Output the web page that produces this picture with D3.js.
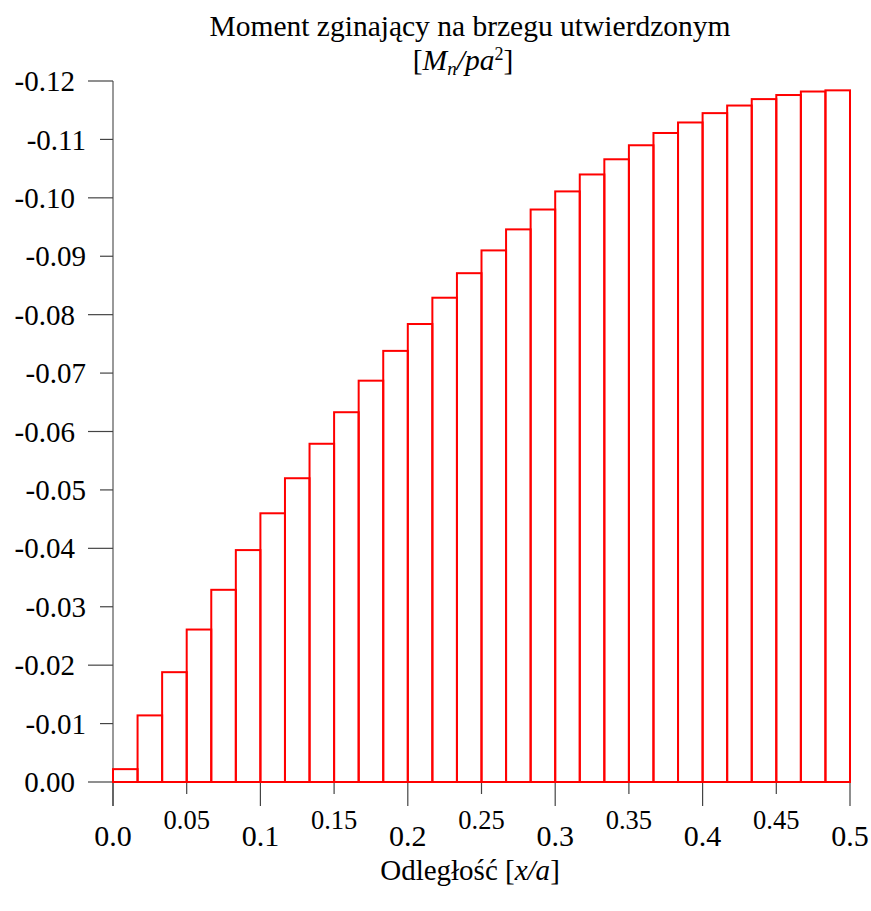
<!DOCTYPE html>
<html>
<head>
<meta charset="utf-8">
<script src="https://cdnjs.cloudflare.com/ajax/libs/d3/7.8.5/d3.min.js"></script>
<style>
  html, body { margin: 0; padding: 0; background: #fff; }
  svg { display: block; font-family: "Liberation Serif", "Times New Roman", serif; }
</style>
</head>
<body>
<svg id="chart" width="871" height="911"></svg>
<script>
// ---- data ----
const binWidth = 1 / 60;                // width of each interval in x/a
const moments = [
  -0.0022, -0.0114, -0.0188, -0.0261, -0.0329, -0.0397, -0.0460, -0.0520,
  -0.0579, -0.0633, -0.0687, -0.0738, -0.0784, -0.0829, -0.0871, -0.0910,
  -0.0946, -0.0980, -0.1011, -0.1040, -0.1066, -0.1090, -0.1111, -0.1129,
  -0.1145, -0.1158, -0.1169, -0.1176, -0.1182, -0.1184
];
const yTicks = [0, -0.01, -0.02, -0.03, -0.04, -0.05, -0.06, -0.07, -0.08, -0.09, -0.10, -0.11, -0.12];
const xMajorTicks = [0, 0.1, 0.2, 0.3, 0.4, 0.5];
const xMajorLabels = ["0.0", "0.1", "0.2", "0.3", "0.4", "0.5"];
const xMinorTicks = [0.05, 0.15, 0.25, 0.35, 0.45];
const xMinorLabels = ["0.05", "0.15", "0.25", "0.35", "0.45"];

// ---- layout ----
const svg = d3.select("#chart");
const x = d3.scaleLinear().domain([0, 0.5]).range([113, 850]);
const y = d3.scaleLinear().domain([0, -0.12]).range([782, 81]);

// title
const title = svg.append("g").attr("text-anchor", "middle").attr("fill", "#000");
title.append("text").attr("x", 470).attr("y", 36).attr("font-size", 29.5)
  .text("Moment zginający na brzegu utwierdzonym");
const t2 = title.append("text").attr("x", 463).attr("y", 70).attr("font-size", 29.5);
t2.append("tspan").text("[");
t2.append("tspan").attr("font-style", "italic").text("M");
t2.append("tspan").attr("font-style", "italic").attr("font-size", 19).attr("dy", 5).text("n");
t2.append("tspan").attr("font-style", "italic").attr("dy", -5).text("/pa");
t2.append("tspan").attr("font-size", 18).attr("dy", -10).text("2");
t2.append("tspan").attr("dy", 10).text("]");

// y axis
const yAxis = svg.append("g").attr("transform", `translate(${x(0)},0)`);
yAxis.append("line").attr("x1", 0).attr("x2", 0).attr("y1", y(-0.12)).attr("y2", 806)
  .attr("stroke", "#555").attr("stroke-width", 1.2);
yTicks.forEach((v, i) => {
  const major = i % 2 === 0;
  const len = major ? 25 : 13;
  yAxis.append("line").attr("x1", -len).attr("x2", 0).attr("y1", y(v)).attr("y2", y(v))
    .attr("stroke", "#444").attr("stroke-width", 1.2);
  yAxis.append("text").attr("x", major ? -38 : -27).attr("y", y(v)).attr("dy", "0.35em")
    .attr("text-anchor", "end").attr("font-size", 29)
    .text(v === 0 ? "0.00" : v.toFixed(2));
});

// x axis
const xAxis = svg.append("g").attr("transform", `translate(0,${y(0)})`);
xAxis.append("line").attr("x1", x(0)).attr("x2", x(0.5)).attr("y1", 0).attr("y2", 0)
  .attr("stroke", "#444");
xMajorTicks.forEach((v, i) => {
  xAxis.append("line").attr("x1", x(v)).attr("x2", x(v)).attr("y1", 0).attr("y2", 24)
    .attr("stroke", "#444").attr("stroke-width", 1.2);
  xAxis.append("text").attr("x", x(v)).attr("y", 64).attr("text-anchor", "middle")
    .attr("font-size", 30).text(xMajorLabels[i]);
});
xMinorTicks.forEach((v, i) => {
  xAxis.append("line").attr("x1", x(v)).attr("x2", x(v)).attr("y1", 0).attr("y2", 12)
    .attr("stroke", "#444").attr("stroke-width", 1.2);
  xAxis.append("text").attr("x", x(v)).attr("y", 47).attr("text-anchor", "middle")
    .attr("font-size", 26.5).text(xMinorLabels[i]);
});

// x axis title
const xt = svg.append("text").attr("x", 470).attr("y", 880).attr("text-anchor", "middle")
  .attr("font-size", 29);
xt.append("tspan").text("Odległość [");
xt.append("tspan").attr("font-style", "italic").text("x/a");
xt.append("tspan").text("]");

// bars
svg.append("g").selectAll("rect").data(moments).join("rect")
  .attr("x", (d, i) => x(i * binWidth))
  .attr("width", (d, i) => x((i + 1) * binWidth) - x(i * binWidth))
  .attr("y", d => y(d))
  .attr("height", d => y(0) - y(d))
  .attr("fill", "none")
  .attr("stroke", "#ff0000")
  .attr("stroke-width", 2);
</script>
</body>
</html>
